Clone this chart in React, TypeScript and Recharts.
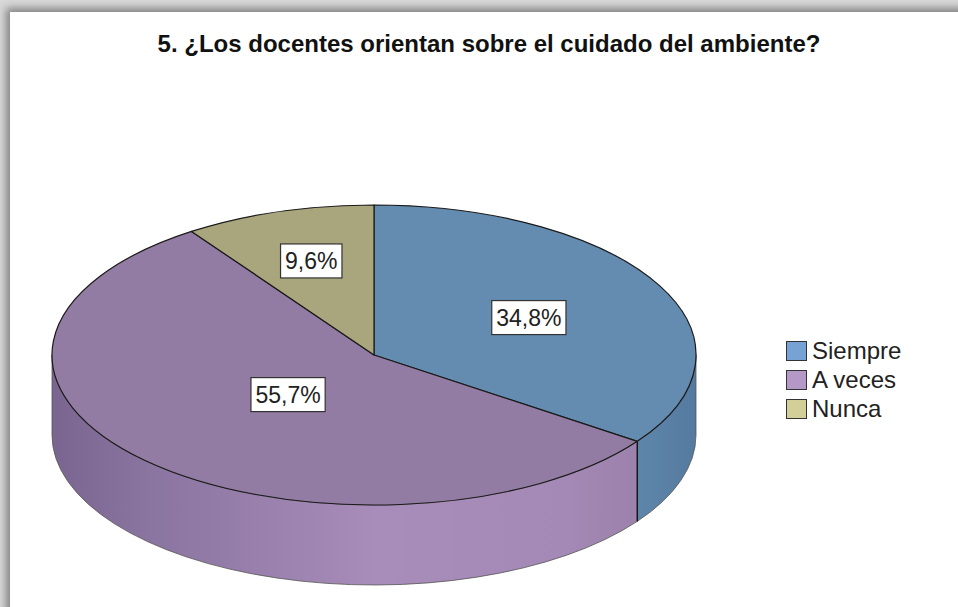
import React from 'react';
import { PieChart, Pie, Cell, Legend } from 'recharts';

const title = '5. ¿Los docentes orientan sobre el cuidado del ambiente?';
const categories = ['Siempre', 'A veces', 'Nunca'];
const percentages = [34.8, 55.7, 9.6];
const topColors = ['#648BB0', '#937CA3', '#A9A57C'];
const legendColors = ['#76A3D3', '#B498C8', '#D3CF98'];
const sideStops: [number, string][][] = [
  [[0, '#6A91B6'], [0.8, '#6189AE'], [0.93, '#5C83A8'], [1, '#557A9F']],
  [[0, '#7A6590'], [0.15, '#8A74A0'], [0.5, '#A88CBA'], [0.8, '#A488B5'], [0.9, '#9D82AD'], [1, '#9D82AD']],
  [[0, '#9A9670'], [1, '#9A9670']],
];

const data = categories.map((name, i) => ({ name, value: percentages[i] }));

const RAD = Math.PI / 180;
const RY = 150 / 322;
const DEPTH = 80;
const FONT = '"Liberation Sans", Arial, sans-serif';

const fmt = (v: number) => v.toFixed(1).replace('.', ',') + '%';
const charW: Record<string, number> = { ',': 0.278, '%': 0.889 };
const textWidth = (s: string, size: number) =>
  s.split('').reduce((a, c) => a + (charW[c] ?? 0.556), 0) * size;

const idxOf = (p: any) => {
  const n = p?.payload?.name ?? p?.name;
  const i = categories.indexOf(n);
  return i < 0 ? 0 : i;
};

const Slice3D = (props: any) => {
  const { cx, cy, outerRadius, startAngle, endAngle } = props;
  const i = idxOf(props);
  const rx = outerRadius;
  const ry = outerRadius * RY;
  const pt = (a: number, dy = 0) => [cx + rx * Math.cos(a * RAD), cy - ry * Math.sin(a * RAD) + dy];
  const s = pt(startAngle);
  const e = pt(endAngle);
  const span = Math.abs(startAngle - endAngle);
  const large = span > 180 ? 1 : 0;
  const top = `M${cx},${cy} L${s[0]},${s[1]} A${rx},${ry} 0 ${large} 1 ${e[0]},${e[1]} Z`;
  const hi = Math.max(startAngle, endAngle);
  const lo = Math.min(startAngle, endAngle);
  const a1 = Math.min(hi, 0);
  const a2 = Math.max(lo, -180);
  let side: React.ReactNode = null;
  const gid = `side-grad-${i}`;
  if (a1 > a2) {
    const p1 = pt(a1);
    const p2 = pt(a2);
    const q1 = pt(a1, DEPTH);
    const q2 = pt(a2, DEPTH);
    const d = `M${p1[0]},${p1[1]} A${rx},${ry} 0 0 1 ${p2[0]},${p2[1]} L${q2[0]},${q2[1]} A${rx},${ry} 0 0 0 ${q1[0]},${q1[1]} Z`;
    const edges: React.ReactNode[] = [];
    [a1, a2].forEach((a, k) => {
      if (a !== 0 && a !== -180) {
        const p = pt(a);
        const q = pt(a, DEPTH);
        edges.push(<line key={k} x1={p[0]} y1={p[1]} x2={q[0]} y2={q[1]} stroke="#111" strokeWidth={1.3} />);
      }
    });
    side = (
      <g>
        <path d={d} fill={`url(#${gid})`} stroke="#555" strokeWidth={0.8} />
        {edges}
      </g>
    );
  }
  return (
    <g>
      <defs>
        <linearGradient id={gid} gradientUnits="userSpaceOnUse" x1={cx - rx} y1={0} x2={cx + rx} y2={0}>
          {sideStops[i].map(([o, c], k) => (
            <stop key={k} offset={o} stopColor={c} />
          ))}
        </linearGradient>
      </defs>
      {side}
      <path d={top} fill={topColors[i]} stroke="#1a1a1a" strokeWidth={1.2} strokeLinejoin="round" />
    </g>
  );
};

const renderLabel = (props: any) => {
  const { cx, cy, outerRadius, startAngle, endAngle } = props;
  const i = idxOf(props);
  const mid = ((startAngle + endAngle) / 2) * RAD;
  const h = (Math.abs(startAngle - endAngle) / 2) * RAD;
  const d = ((2 / 3) * Math.sin(h)) / h * outerRadius;
  const x = cx + d * Math.cos(mid);
  const y = cy - d * RY * Math.sin(mid);
  const text = fmt(percentages[i]);
  const w = textWidth(text, 23) + 9;
  return (
    <g key={`lbl-${i}`}>
      <rect x={x - w / 2} y={y - 17} width={w} height={34} fill="#fff" stroke="#333" strokeWidth={1.2} />
      <text x={x} y={y + 8.5} textAnchor="middle" fontSize={23} fontFamily={FONT} fill="#222">
        {text}
      </text>
    </g>
  );
};

const renderLegend = () => (
  <div style={{ fontFamily: FONT }}>
    {categories.map((c, i) => (
      <div key={c} style={{ display: 'flex', alignItems: 'center', height: 29 }}>
        <div
          style={{
            width: 21,
            height: 20,
            boxSizing: 'border-box',
            border: '1.5px solid #333',
            background: legendColors[i],
            marginRight: 5,
          }}
        />
        <span style={{ fontSize: 24, lineHeight: '29px', color: '#222' }}>{c}</span>
      </div>
    ))}
  </div>
);

export default function App() {
  return (
    <div style={{ position: 'absolute', left: 0, top: 0, width: 958, height: 607, background: '#d9d9d9', overflow: 'hidden' }}>
      <div
        style={{
          position: 'absolute',
          left: 10,
          top: 12,
          width: 960,
          height: 610,
          background: '#fff',
          boxShadow: '0 0 8px 4px rgba(0,0,0,0.4)',
        }}
      />
      <div
        style={{
          position: 'absolute',
          left: 89,
          top: 32,
          width: 800,
          textAlign: 'center',
          fontFamily: FONT,
          fontWeight: 'bold',
          fontSize: 24,
          lineHeight: '24px',
          color: '#111',
        }}
      >
        {title}
      </div>
      <div style={{ position: 'absolute', left: 0, top: 0 }}>
        <PieChart width={958} height={607} margin={{ top: 0, right: 0, bottom: 0, left: 0 }}>
          <Pie
            data={data}
            dataKey="value"
            nameKey="name"
            cx={374}
            cy={355}
            outerRadius={322}
            startAngle={90}
            endAngle={-270}
            isAnimationActive={false}
            shape={Slice3D as any}
            label={renderLabel}
            labelLine={false}
            stroke="none"
          >
            {data.map((d, i) => (
              <Cell key={d.name} fill={topColors[i]} />
            ))}
          </Pie>
          <Legend
            layout="vertical"
            align="right"
            verticalAlign="middle"
            content={renderLegend}
            wrapperStyle={{ position: 'absolute', left: 786, top: 336, width: 160 }}
          />
        </PieChart>
      </div>
    </div>
  );
}
